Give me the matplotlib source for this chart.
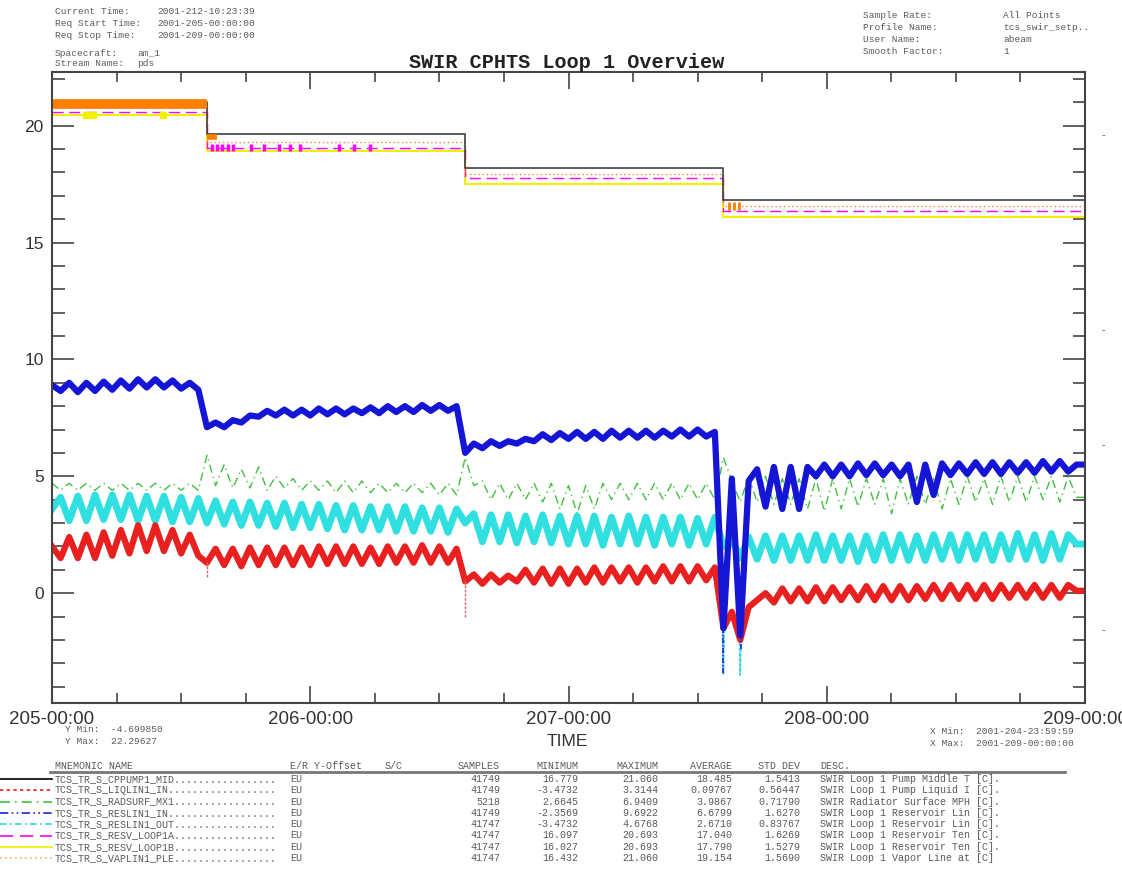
import numpy as np
import matplotlib
matplotlib.use("Agg")
import matplotlib.pyplot as plt
from matplotlib.lines import Line2D
from matplotlib.ticker import MultipleLocator, FixedLocator, FixedFormatter

W, H = 1122, 873
MONO = "Liberation Mono"
SANS = "Liberation Sans"
GREY = "#5a5a5a"

# segment edges (day of year 2001) where the set points change
seg_edges = [205.0, 205.6, 206.6, 207.6, 209.0]

# step-like channels, one level per segment
black_cppump1 = [21.0, 19.65, 18.2, 16.8]
yellow_resv_1b = [20.45, 18.9, 17.5, 16.1]
magenta_resv_1a = [20.6, 19.05, 17.75, 16.35]
orange_vaplin1 = [20.93, 19.3, 17.95, 16.55]

# oscillating channels, values read per half orbit, one list per segment
blue_reslin1_in = [
    [8.9, 8.65, 9.0, 8.6, 9.0, 8.65, 9.05, 8.7, 9.1, 8.75, 9.15, 8.8, 9.15, 8.8, 9.1, 8.75, 9.0, 8.7],
    [7.1, 7.3, 7.1, 7.4, 7.3, 7.6, 7.55, 7.8, 7.6, 7.85, 7.6, 7.85, 7.6, 7.9, 7.65, 7.9, 7.65, 7.9,
     7.7, 7.95, 7.7, 8.0, 7.75, 8.0, 7.75, 8.05, 7.8, 8.05, 7.8, 8.0],
    [6.0, 6.4, 6.2, 6.5, 6.3, 6.5, 6.4, 6.6, 6.5, 6.8, 6.55, 6.85, 6.6, 6.9, 6.6, 6.9, 6.6, 6.95,
     6.65, 6.95, 6.65, 6.95, 6.65, 6.95, 6.7, 7.0, 6.7, 7.0, 6.7, 6.9],
    [-1.5, 4.9, -1.8, 4.8, 5.3, 3.7, 5.4, 3.6, 5.4, 3.6, 5.4, 5.0, 5.5, 5.0, 5.5, 5.0, 5.55, 5.05,
     5.55, 5.05, 5.5, 5.0, 5.5, 3.9, 5.5, 4.2, 5.55, 5.05, 5.55, 5.1, 5.6, 5.1, 5.6, 5.1, 5.6, 5.15,
     5.6, 5.15, 5.65, 5.2, 5.65, 5.2, 5.5],
]
cyan_reslin1_out = [
    [3.6, 4.1, 3.1, 4.15, 3.1, 4.2, 3.15, 4.2, 3.15, 4.2, 3.1, 4.15, 3.1, 4.15, 3.05, 4.1, 3.05, 4.05],
    [3.0, 3.95, 2.95, 3.9, 2.9, 3.9, 2.9, 3.85, 2.85, 3.85, 2.8, 3.8, 2.8, 3.8, 2.75, 3.75, 2.7, 3.75,
     2.7, 3.7, 2.7, 3.7, 2.65, 3.7, 2.65, 3.65, 2.65, 3.65, 2.6, 3.6],
    [3.0, 3.4, 2.2, 3.35, 2.2, 3.35, 2.15, 3.3, 2.2, 3.35, 2.15, 3.3, 2.1, 3.3, 2.1, 3.3, 2.05, 3.25,
     2.1, 3.3, 2.1, 3.25, 2.05, 3.25, 2.1, 3.25, 2.05, 3.2, 2.1, 3.25],
    [2.0, 2.3, 1.5, 2.4, 1.45, 2.45, 1.4, 2.45, 1.4, 2.45, 1.4, 2.5, 1.4, 2.45, 1.4, 2.45, 1.35, 2.45,
     1.4, 2.5, 1.4, 2.5, 1.4, 2.45, 1.4, 2.5, 1.45, 2.5, 1.4, 2.5, 1.45, 2.5, 1.4, 2.5, 1.45, 2.55,
     1.45, 2.5, 1.4, 2.55, 1.45, 2.5, 2.1],
]
red_liqlin1_in = [
    [2.0, 1.5, 2.4, 1.5, 2.5, 1.5, 2.6, 1.6, 2.7, 1.7, 2.9, 1.8, 2.9, 1.8, 2.7, 1.7, 2.5, 1.6],
    [1.3, 1.9, 1.2, 1.9, 1.15, 1.95, 1.2, 1.95, 1.2, 1.95, 1.2, 1.95, 1.2, 2.0, 1.25, 2.0, 1.25, 2.0,
     1.25, 1.95, 1.25, 2.0, 1.3, 2.0, 1.3, 2.05, 1.3, 2.0, 1.3, 1.9],
    [0.5, 0.8, 0.4, 0.8, 0.45, 0.75, 0.5, 1.0, 0.45, 1.05, 0.4, 1.05, 0.4, 1.05, 0.45, 1.1, 0.45, 1.1,
     0.5, 1.1, 0.45, 1.1, 0.5, 1.15, 0.5, 1.15, 0.5, 1.15, 0.55, 1.1],
    [-1.5, -0.8, -2.0, -0.6, -0.3, 0.0, -0.4, 0.2, -0.35, 0.2, -0.35, 0.25, -0.35, 0.25, -0.3, 0.25,
     -0.3, 0.3, -0.3, 0.3, -0.3, 0.3, -0.3, 0.3, -0.25, 0.35, -0.25, 0.35, -0.25, 0.35, -0.25, 0.35,
     -0.25, 0.35, -0.2, 0.35, -0.2, 0.35, -0.2, 0.35, -0.2, 0.35, 0.1],
]
green_radsurf = [
    [4.7, 4.4, 4.7, 4.4, 4.7, 4.4, 4.7, 4.4, 4.7, 4.4, 4.7, 4.4, 4.7, 4.4, 4.7, 4.4, 4.7, 4.4],
    [5.9, 4.6, 5.5, 4.5, 5.3, 4.5, 5.4, 4.4, 5.0, 4.5, 4.9, 4.4, 4.8, 4.4, 4.8, 4.3, 4.8, 4.3,
     4.8, 4.3, 4.7, 4.3, 4.7, 4.3, 4.7, 4.3, 4.7, 4.2, 4.7, 4.2],
    [5.8, 4.6, 4.8, 4.0, 4.7, 4.0, 4.7, 4.0, 4.7, 3.9, 4.7, 3.6, 4.6, 3.4, 4.6, 3.6, 4.7, 4.0,
     4.7, 4.0, 4.7, 4.0, 4.7, 4.0, 4.7, 4.0, 4.7, 4.0, 4.7, 4.0],
    [5.8, 4.8, 3.9, 5.0, 3.9, 5.0, 3.8, 4.9, 3.8, 4.9, 3.6, 4.9, 3.5, 4.9, 3.6, 4.9, 3.7, 4.9,
     3.8, 4.9, 3.4, 4.9, 3.8, 5.0, 3.8, 4.9, 3.6, 4.9, 3.8, 5.0, 3.9, 4.9, 3.8, 5.0, 3.9, 5.0,
     3.9, 5.0, 4.0, 5.0, 3.9, 5.0, 4.1],
]

# thin excursions at the switch-overs
cyan_dip_t = [207.59, 207.6, 207.61, 207.655, 207.665, 207.675]
cyan_dip_v = [2.0, -3.5, 2.0, 2.0, -3.5, 2.0]
blue_dip_t = [207.6, 207.667]
blue_dip_lo = [-3.4, -2.4]
red_dip_t = [205.6, 206.6]
red_dip_lo = [0.7, -1.0]
magenta_tick_t = [205.62, 205.64, 205.66, 205.68, 205.70, 205.77, 205.82, 205.88, 205.92,
                  205.96, 206.11, 206.17, 206.23]
yellow_mark_t = [205.13, 205.16, 205.43]

xtick_days = [205, 206, 207, 208, 209]
xtick_labels = ["205-00:00", "206-00:00", "207-00:00", "208-00:00", "209-00:00"]

# statistics table
names = ["TCS_TR_S_CPPUMP1_MID", "TCS_TR_S_LIQLIN1_IN", "TCS_TR_S_RADSURF_MX1",
         "TCS_TR_S_RESLIN1_IN", "TCS_TR_S_RESLIN1_OUT", "TCS_TR_S_RESV_LOOP1A",
         "TCS_TR_S_RESV_LOOP1B", "TCS_TR_S_VAPLIN1_PLE"]
samples = ["41749", "41749", "5218", "41749", "41747", "41747", "41747", "41747"]
minimum = ["16.779", "-3.4732", "2.6645", "-2.3569", "-3.4732", "16.097", "16.027", "16.432"]
maximum = ["21.060", "3.3144", "6.9409", "9.6922", "4.6768", "20.693", "20.693", "21.060"]
average = ["18.485", "0.09767", "3.9867", "6.6799", "2.6710", "17.040", "17.790", "19.154"]
std_dev = ["1.5413", "0.56447", "0.71790", "1.6270", "0.83767", "1.6269", "1.5279", "1.5690"]
descs = ["SWIR Loop 1 Pump Middle T [C].", "SWIR Loop 1 Pump Liquid I [C].",
         "SWIR Radiator Surface MPH [C].", "SWIR Loop 1 Reservoir Lin [C].",
         "SWIR Loop 1 Reservoir Lin [C].", "SWIR Loop 1 Reservoir Ten [C].",
         "SWIR Loop 1 Reservoir Ten [C].", "SWIR Loop 1 Vapor Line at [C]"]
row_colors = ["black", "#e82020", "#40c040", "#2020d0", "#30d8d8", "#ff00ff", "#f0f000", "#ffb070"]
row_styles = ["-", (0, (2, 2)), (0, (6, 3, 1, 3)), (0, (5, 2, 1, 2, 1, 2)),
              (0, (4, 2, 1, 2)), (0, (8, 4)), "-", (0, (1, 2))]


def fx(px):
    return px / W


def fy(py):
    return 1 - py / H


def seg_series(segs):
    ts, vs = [], []
    for i, vals in enumerate(segs):
        ts.append(np.linspace(seg_edges[i], seg_edges[i + 1], len(vals), endpoint=False))
        vs.append(vals)
    ts.append([seg_edges[-1]])
    vs.append([segs[-1][-1]])
    return np.concatenate(ts), np.concatenate(vs)


def steps(levels):
    return seg_edges, levels + [levels[-1]]


fig = plt.figure(figsize=(W / 100, H / 100), dpi=100)
ax = fig.add_axes([fx(52), fy(703), fx(1085) - fx(52), fy(72) - fy(703)])

# oscillating channels (dense data shows as thick bands)
t, v = seg_series(green_radsurf)
ax.plot(t, v, color="#40c040", lw=1.0, ls=(0, (6, 3, 1, 3)))
t, v = seg_series(cyan_reslin1_out)
ax.plot(t, v, color="#30e0e0", lw=5)
ax.plot(cyan_dip_t, cyan_dip_v, color="#30d8d8", lw=1.2, ls=(0, (2, 1)))
t, v = seg_series(red_liqlin1_in)
ax.plot(t, v, color="#e82020", lw=4.5)
ax.vlines(red_dip_t, red_dip_lo, [1.4, 0.6], color="#e86060", lw=1.0, ls=(0, (2, 1)))
t, v = seg_series(blue_reslin1_in)
ax.plot(t, v, color="#1515d5", lw=4.5)
ax.vlines(blue_dip_t, blue_dip_lo, [-1.4, -1.7], color="#2020d0", lw=1.2, ls=(0, (3, 1, 1, 1)))

# step channels
ax.plot(*steps(yellow_resv_1b), color="#f0f000", lw=1.5, drawstyle="steps-post")
ax.plot(*steps(magenta_resv_1a), color="#ff00ff", lw=1.0, ls=(0, (8, 4)), drawstyle="steps-post")
ax.plot(*steps(orange_vaplin1), color="#f08a40", lw=1.0, ls=(0, (1, 2)), drawstyle="steps-post")
ax.plot(*steps(black_cppump1), color="#404040", lw=1.2, drawstyle="steps-post")
ax.plot(seg_edges[:2], [orange_vaplin1[0]] * 2, color="#ff8000", lw=7, solid_capstyle="butt")
ax.plot([seg_edges[1], seg_edges[1] + 0.04], [19.5, 19.5], color="#ff8000", lw=4, solid_capstyle="butt")
ax.vlines([207.62, 207.64, 207.66], 16.4, 16.75, color="#ff8000", lw=2)
ax.vlines(magenta_tick_t, 18.9, 19.2, color="#ff00ff", lw=2.5)
ax.plot(yellow_mark_t, [yellow_resv_1b[0]] * len(yellow_mark_t), ls="none", marker="s",
        ms=4, color="#f0f000")

ax.set_xlim(seg_edges[0], seg_edges[-1])
ax.set_ylim(-4.699850, 22.29627)
ax.xaxis.set_major_locator(FixedLocator(xtick_days))
ax.xaxis.set_major_formatter(FixedFormatter(xtick_labels))
ax.xaxis.set_minor_locator(MultipleLocator(0.25))
ax.yaxis.set_major_locator(MultipleLocator(5))
ax.yaxis.set_minor_locator(MultipleLocator(1))
ax.tick_params(which="both", direction="in", top=True, right=True, color="#444444", width=1.2)
ax.tick_params(which="major", axis="y", length=16, pad=6, labelsize=12.5, labelcolor="#333333")
ax.tick_params(which="minor", axis="y", length=9)
ax.tick_params(which="major", axis="x", length=12, pad=6, labelsize=13.5, labelcolor="#333333")
ax.tick_params(which="minor", axis="x", length=7)
for lab in ax.get_xticklabels() + ax.get_yticklabels():
    lab.set_family(SANS)
for sp in ax.spines.values():
    sp.set_color("#444444")
    sp.set_linewidth(1.5)

fig.text(fx(567), fy(62), "SWIR CPHTS Loop 1 Overview", family=MONO, weight="bold",
         size=14.5, ha="center", va="center", color="#222222")
fig.text(fx(567), fy(741), "TIME", family=SANS, size=12.5, ha="center", va="center", color="#333333")

small = dict(family=MONO, size=6.8, color=GREY, va="center")
for y, lab, val in [(12, "Current Time:", "2001-212-10:23:39"),
                    (24, "Req Start Time:", "2001-205-00:00:00"),
                    (36, "Req Stop Time:", "2001-209-00:00:00")]:
    fig.text(fx(55), fy(y), lab, **small)
    fig.text(fx(157), fy(y), val, **small)
fig.text(fx(55), fy(53), "Spacecraft:", **small)
fig.text(fx(137), fy(53), "am_1", **small)
fig.text(fx(55), fy(64), "Stream Name:", **small)
fig.text(fx(137), fy(64), "pds", **small)
for y, lab, val in [(16, "Sample Rate:", "All Points"), (27, "Profile Name:", "tcs_swir_setp.."),
                    (39, "User Name:", "abeam"), (51, "Smooth Factor:", "1")]:
    fig.text(fx(863), fy(y), lab, **small)
    fig.text(fx(1003), fy(y), val, **small)
fig.text(fx(65), fy(730), "Y Min:  -4.699850", **small)
fig.text(fx(65), fy(742), "Y Max:  22.29627", **small)
fig.text(fx(930), fy(731), "X Min:  2001-204-23:59:59", **small)
fig.text(fx(930), fy(743), "X Max:  2001-209-00:00:00", **small)
for y in [135, 330, 445, 630]:
    fig.text(fx(1103), fy(y), "-", family=SANS, size=8, color="#555555", ha="center", va="center")

# statistics table under the plot
tab = dict(family=MONO, size=7.2, color=GREY, va="center")
hy = 766
fig.text(fx(55), fy(hy), "MNEMONIC NAME", **tab)
fig.text(fx(290), fy(hy), "E/R Y-Offset", **tab)
fig.text(fx(385), fy(hy), "S/C", **tab)
for x, lab in [(500, "SAMPLES"), (578, "MINIMUM"), (658, "MAXIMUM"), (732, "AVERAGE"), (800, "STD DEV")]:
    fig.text(fx(x), fy(hy), lab, ha="right", **tab)
fig.text(fx(820), fy(hy), "DESC.", **tab)
fig.add_artist(Line2D([fx(50), fx(1065)], [fy(772), fy(772)], color="#777777", lw=2))
for i, name in enumerate(names):
    y = 779 + i * 11.3
    fig.add_artist(Line2D([0, fx(52)], [fy(y), fy(y)], color=row_colors[i], ls=row_styles[i], lw=1.2))
    fig.text(fx(55), fy(y), name.ljust(37, "."), **tab)
    fig.text(fx(290), fy(y), "EU", **tab)
    for x, col in [(500, samples), (578, minimum), (658, maximum), (732, average), (800, std_dev)]:
        fig.text(fx(x), fy(y), col[i], ha="right", **tab)
    fig.text(fx(820), fy(y), descs[i], **tab)

fig.savefig("out.png", dpi=100)
